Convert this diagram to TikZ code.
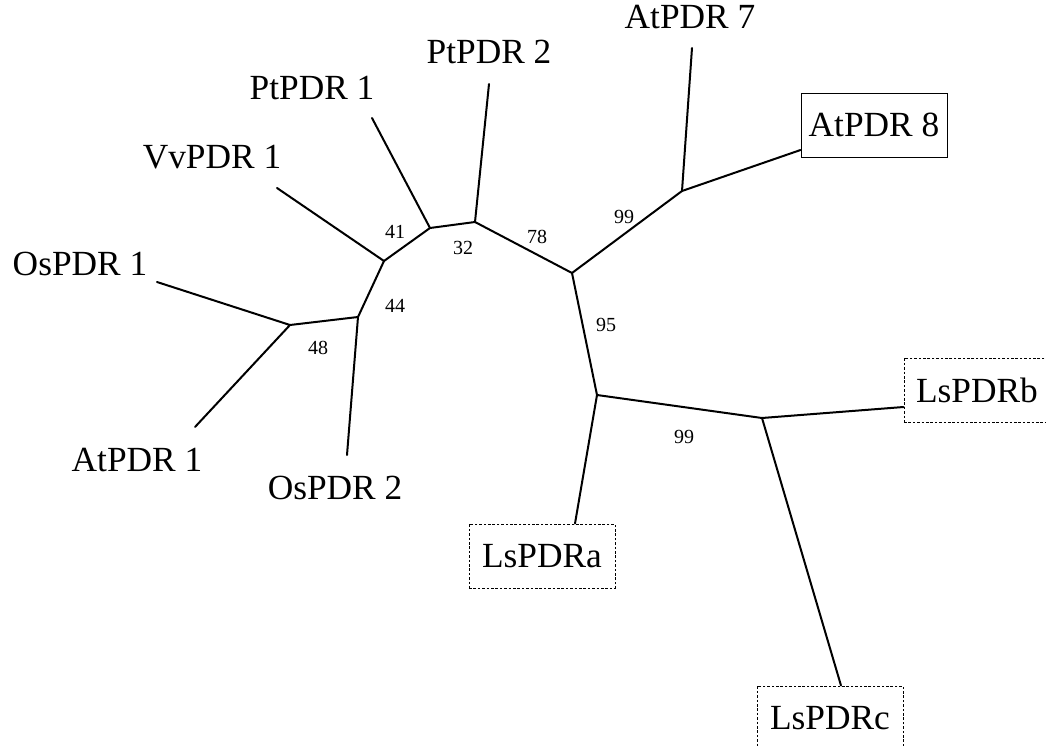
\documentclass[tikz,border=0pt]{standalone}
\usepackage{fontspec}
\setmainfont{Liberation Serif}
\usepackage{tikz}
\usetikzlibrary{positioning}
\definecolor{Ink}{HTML}{000000}

\begin{document}
\begin{tikzpicture}[
  x=0.75pt,y=-0.75pt,
  taxon/.style={inner sep=0pt,text=Ink,font=\fontsize{26.5}{30}\selectfont},
  knownbox/.style={taxon,draw=Ink,line width=0.7pt,minimum width=109.5pt,minimum height=48pt},
  newbox/.style={knownbox,dash pattern=on 2pt off 1.3pt},
  boot/.style={inner sep=0pt,text=Ink,font=\fontsize{15}{17}\selectfont},
  branch/.style={draw=Ink,line width=1.5pt,line cap=round,line join=round}
]
\useasboundingbox (0,0) rectangle (1046,746);
% inner nodes of the tree
\coordinate (n48) at (290,325);
\coordinate (n44) at (358,317);
\coordinate (n41) at (384,261);
\coordinate (n32) at (430,228);
\coordinate (n78) at (475,222);
\coordinate (n95) at (572,273);
\coordinate (n99at) at (682,191);
\coordinate (n99ls) at (597,395);
\coordinate (n99bc) at (762,418);
% free ends of the leaf branches
\coordinate (tos1) at (157,282);
\coordinate (tat1) at (195,427);
\coordinate (tos2) at (347,455);
\coordinate (tvv1) at (277,188);
\coordinate (tpt1) at (372,118);
\coordinate (tpt2) at (489,84);
\coordinate (tat7) at (692,48);
% taxa
\node[taxon] (os1) at (80,264) {OsPDR 1};
\node[taxon] (at1) at (137,460) {AtPDR 1};
\node[taxon] (os2) at (335,488) {OsPDR 2};
\node[taxon] (vv1) at (212,157) {VvPDR 1};
\node[taxon] (pt1) at (312,88) {PtPDR 1};
\node[taxon] (pt2) at (489,52) {PtPDR 2};
\node[taxon] (at7) at (690,17) {AtPDR 7};
\node[knownbox] (at8) at (874,125) {AtPDR 8};
\node[newbox] (lsa) at (542,556) {LsPDRa};
\node[newbox] (lsb) at (977,390) {LsPDRb};
\node[newbox] (lsc) at (830,718) {LsPDRc};
% branches
\draw[branch] (tos1) -- (n48) -- (tat1);
\draw[branch] (n48) -- (n44) -- (tos2);
\draw[branch] (n44) -- (n41) -- (tvv1);
\draw[branch] (n41) -- (n32) -- (tpt1);
\draw[branch] (n32) -- (n78) -- (tpt2);
\draw[branch] (n78) -- (n95) -- (n99at) -- (tat7);
\draw[branch] (n99at) -- (at8.west |- 0,150);
\draw[branch] (n95) -- (n99ls) -- (lsa.north -| 575,0);
\draw[branch] (n99ls) -- (n99bc) -- (lsb.west |- 0,407);
\draw[branch] (n99bc) -- (lsc.north -| 841,0);
% bootstrap values
\node[boot] (b48) at (318,348) {48};
\node[boot] (b44) at (395,306) {44};
\node[boot] (b41) at (395,232) {41};
\node[boot] (b32) at (463,248) {32};
\node[boot] (b78) at (537,237) {78};
\node[boot] (b99at) at (624,217) {99};
\node[boot] (b95) at (606,325) {95};
\node[boot] (b99bc) at (684,437) {99};
\end{tikzpicture}
\end{document}
